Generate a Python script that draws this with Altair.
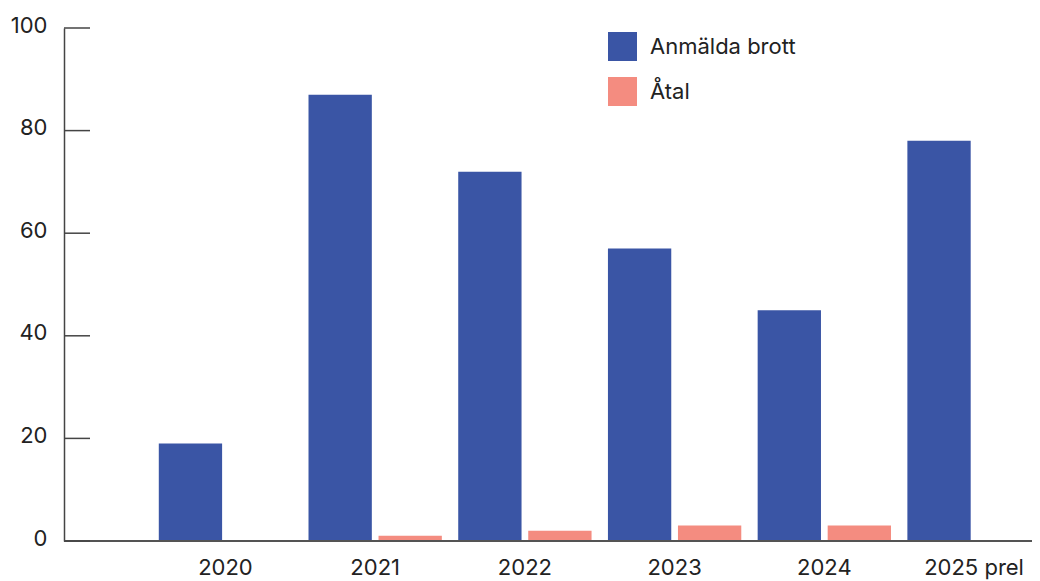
import altair as alt
import pandas as pd

years = ["2020", "2021", "2022", "2023", "2024", "2025 prel"]
series = ["Anmälda brott", "Åtal"]
anmalda = [19, 87, 72, 57, 45, 78]
atal = [0, 1, 2, 3, 3, 0]
y_ticks = [0, 20, 40, 60, 80, 100]
colors = ["#3A55A5", "#F48C80"]

rows = []
for i, yr in enumerate(years):
    rows.append({"year": yr, "series": series[0], "value": anmalda[i]})
    rows.append({"year": yr, "series": series[1], "value": atal[i]})
df = pd.DataFrame(rows)
ticks_df = pd.DataFrame({"tick": y_ticks})

FONT = "Inter"
FS = 22
W, H = 968, 513

yscale = alt.Scale(domain=[0, 100], nice=False)

bars = alt.Chart(df).mark_bar().encode(
    x=alt.X("year:N", sort=years, title=None,
            scale=alt.Scale(range=[86.6, 984.9], paddingInner=0, paddingOuter=0),
            axis=alt.Axis(domain=False, ticks=False, labelAngle=0, labelPadding=16,
                          labelFontSize=FS, labelFont=FONT, labelColor="#222222")),
    xOffset=alt.XOffset("series:N", sort=series,
                        scale=alt.Scale(paddingInner=0.0957, paddingOuter=0.117)),
    y=alt.Y("value:Q", scale=yscale, title=None,
            axis=alt.Axis(values=y_ticks, ticks=False, grid=False, domainColor="#444444",
                          domainWidth=1.5, labelPadding=17, labelFontSize=FS, labelFont=FONT,
                          labelColor="#222222", labelOffset=-3)),
    color=alt.Color("series:N", scale=alt.Scale(domain=series, range=colors), title=None,
                    legend=alt.Legend(orient="none", legendX=544, legendY=4, padding=0,
                                      symbolType="square", symbolSize=841, symbolStrokeWidth=0,
                                      symbolOpacity=1, rowPadding=16, labelOffset=13,
                                      labelFontSize=FS, labelFont=FONT, labelColor="#222222")),
)

tick_rules = alt.Chart(ticks_df).mark_rule(color="#444444", strokeWidth=1.5).encode(
    y=alt.Y("tick:Q", scale=yscale),
    x=alt.value(0),
    x2=alt.value(26),
)

x_line = alt.Chart(ticks_df).mark_rule(color="#555555", strokeWidth=1.5).encode(
    y=alt.datum(0),
    x=alt.value(0),
    x2=alt.value(976),
)

chart = alt.layer(bars, x_line, tick_rules).properties(
    width=W, height=H,
    padding={"left": 56, "top": 20, "right": 0, "bottom": 40},
    autosize=alt.AutoSizeParams(type="none"),
).configure_view(stroke=None)

chart.save("out.html", embed_options={"renderer": "svg", "actions": False})
